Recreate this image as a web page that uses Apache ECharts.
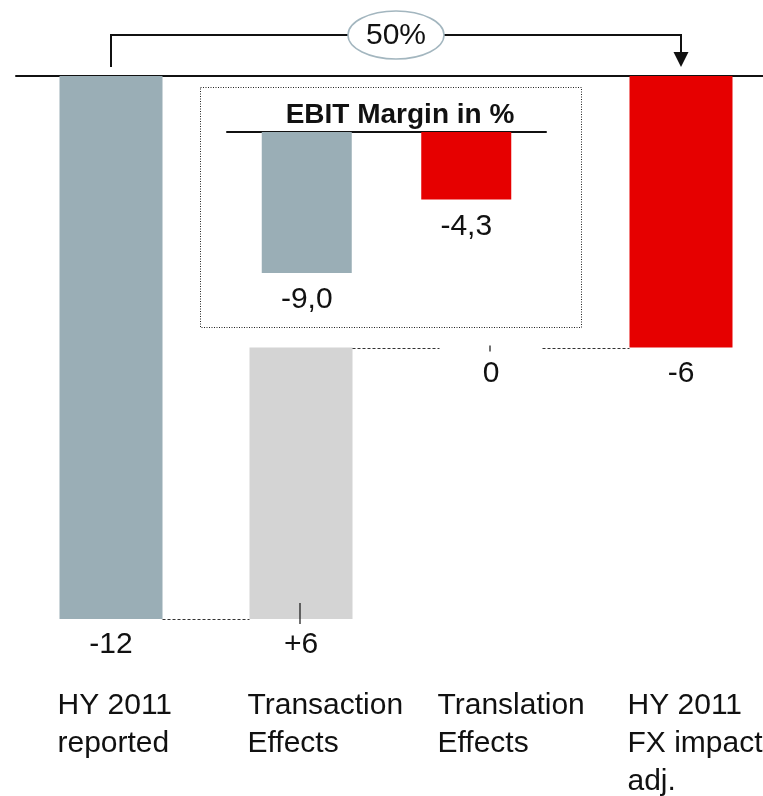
<!DOCTYPE html>
<html>
<head>
<meta charset="utf-8">
<script src="https://cdn.jsdelivr.net/npm/echarts@6/dist/echarts.min.js"></script>
<style>
  html, body { margin: 0; padding: 0; background: #fff; }
  #chart { width: 763px; height: 796px; }
</style>
</head>
<body>
<div id="chart"></div>
<script>
// EBIT bridge: reported -> FX effects -> FX-adjusted
const categories = ['HY 2011\nreported', 'Transaction\nEffects', 'Translation\nEffects', 'HY 2011\nFX impact\nadj.'];
const changes = [-12, 6, 0, -6];
const isTotal = [true, false, false, true];
const valueLabels = ['-12', '+6', '0', '-6'];
const barColors = ['#9aaeb6', '#d4d4d4', '#d4d4d4', '#e60000'];
const bracketFrom = 0;
const bracketTo = 3;
const bracketLabel = '50%';

// inset: EBIT margin
const marginTitle = 'EBIT Margin in %';
const marginCategories = ['HY 2011 reported', 'HY 2011 FX impact adj.'];
const marginValues = [-9.0, -4.3];
const marginColors = ['#9aaeb6', '#e60000'];

const FONT = '"Liberation Sans", Arial, sans-serif';
const TEXT = '#111';

// waterfall geometry from the running total
const base = [], span = [], levelAfter = [], lowEnd = [];
let running = 0;
changes.forEach((c, i) => {
  if (isTotal[i]) {
    running = c;
    base.push(0);
    span.push(c);
  } else {
    const start = running, end = running + c;
    const top = Math.max(start, end), bottom = Math.min(start, end);
    base.push(top);
    span.push(bottom - top);
    running = end;
  }
  levelAfter.push(running);
  lowEnd.push(base[i] + span[i]);
});

const connectorData = [];
for (let i = 0; i < categories.length - 1; i++) connectorData.push([i, levelAfter[i], i + 1]);
const leaderData = [];
changes.forEach((c, i) => { if (!isTotal[i]) leaderData.push([i, lowEnd[i]]); });

const BAR_W = 103;
const leaderExtent = [[16, 5], [2, 4]]; // px above / below the level

const chart = echarts.init(document.getElementById('chart'), null, { renderer: 'canvas' });

const option = {
  animation: false,
  backgroundColor: '#fff',
  textStyle: { fontFamily: FONT },
  title: {
    text: marginTitle,
    left: 395,
    top: 96,
    textAlign: 'center',
    textStyle: { fontFamily: FONT, fontSize: 28, fontWeight: 'bold', color: TEXT }
  },
  grid: [
    { left: 16, top: 76, width: 760, height: 543, outerBoundsMode: 'none', containLabel: false },
    { left: 227, top: 132, width: 319, height: 156.7, outerBoundsMode: 'none', containLabel: false }
  ],
  xAxis: [
    {
      type: 'category', gridIndex: 0, data: categories,
      axisLine: { show: true, onZero: true, lineStyle: { color: '#111', width: 2 } },
      axisTick: { show: false }, axisLabel: { show: false }, splitLine: { show: false }
    },
    {
      type: 'category', gridIndex: 1, data: marginCategories,
      axisLine: { show: true, lineStyle: { color: '#111', width: 2 } },
      axisTick: { show: false }, axisLabel: { show: false }, splitLine: { show: false }
    }
  ],
  yAxis: [
    { type: 'value', gridIndex: 0, min: -12, max: 0, show: false },
    { type: 'value', gridIndex: 1, min: -10, max: 0, show: false }
  ],
  graphic: [
    {
      id: 'insetFrame', type: 'rect', z: 0,
      shape: { x: 200.5, y: 87.5, width: 381, height: 240 },
      style: { fill: 'none', stroke: '#222', lineWidth: 1, lineDash: [1, 1.5] }
    }
  ],
  series: [
    {
      type: 'bar', name: 'base', stack: 'wf', xAxisIndex: 0, yAxisIndex: 0,
      barWidth: BAR_W, data: base,
      itemStyle: { color: 'transparent' }, silent: true
    },
    {
      type: 'bar', name: 'change', stack: 'wf', xAxisIndex: 0, yAxisIndex: 0,
      barWidth: BAR_W,
      data: span.map((v, i) => ({
        value: v,
        itemStyle: { color: barColors[i] }
      })),
      label: {
        show: true, position: 'bottom', distance: 11,
        formatter: p => valueLabels[p.dataIndex],
        fontFamily: FONT, fontSize: 30, color: TEXT
      }
    },
    {
      // dashed connectors between neighbouring bars
      type: 'custom', xAxisIndex: 0, yAxisIndex: 0, data: connectorData, z: 3,
      renderItem: (params, api) => {
        const a = api.coord([api.value(0), api.value(1)]);
        const b = api.coord([api.value(2), api.value(1)]);
        const half = BAR_W / 2;
        return {
          type: 'line',
          shape: { x1: a[0] + half, y1: Math.round(a[1]) + 0.5, x2: b[0] - half, y2: Math.round(a[1]) + 0.5 },
          style: { stroke: '#333', lineWidth: 1, lineDash: [3, 2] }
        };
      }
    },
    {
      // short leader marks for the change labels
      type: 'custom', xAxisIndex: 0, yAxisIndex: 0, data: leaderData, z: 3,
      renderItem: (params, api) => {
        const p = api.coord([api.value(0), api.value(1)]);
        const ext = leaderExtent[params.dataIndex];
        return {
          type: 'line',
          shape: { x1: p[0] - 1, y1: p[1] - ext[0], x2: p[0] - 1, y2: p[1] + ext[1] },
          style: { stroke: '#111', lineWidth: 1.2 }
        };
      }
    },
    {
      // bracket with arrow from the reported to the adjusted bar
      type: 'custom', xAxisIndex: 0, yAxisIndex: 0, data: [[bracketFrom, bracketTo]], z: 4,
      renderItem: (params, api) => {
        const a = api.coord([api.value(0), 0]);
        const b = api.coord([api.value(1), 0]);
        const y0 = a[1];
        const top = y0 - 41;
        const mid = (a[0] + b[0]) / 2;
        return {
          type: 'group',
          children: [
            {
              type: 'polyline',
              shape: { points: [[a[0], y0 - 9], [a[0], top], [b[0], top], [b[0], y0 - 23]] },
              style: { stroke: '#111', lineWidth: 2, fill: null }
            },
            {
              type: 'polygon',
              shape: { points: [[b[0] - 7.5, y0 - 24], [b[0] + 7.5, y0 - 24], [b[0], y0 - 9]] },
              style: { fill: '#111' }
            },
            {
              type: 'ellipse',
              shape: { cx: mid, cy: top, rx: 48, ry: 24 },
              style: { fill: '#fff', stroke: '#a3b6bf', lineWidth: 1.5 }
            },
            {
              type: 'text',
              style: {
                text: bracketLabel, x: mid, y: top + 1,
                align: 'center', verticalAlign: 'middle',
                font: '30px ' + FONT, fill: TEXT
              }
            }
          ]
        };
      }
    },
    {
      type: 'bar', name: 'margin', xAxisIndex: 1, yAxisIndex: 1,
      barWidth: 90,
      data: marginValues.map((v, i) => ({ value: v, itemStyle: { color: marginColors[i] } })),
      label: {
        show: true, position: 'bottom', distance: 12,
        formatter: p => p.value.toFixed(1).replace('.', ','),
        fontFamily: FONT, fontSize: 30, color: TEXT
      }
    }
  ]
};

chart.setOption(option);

// category captions, left-aligned with each bar's left edge
const captions = categories.map((c, i) => {
  const p = chart.convertToPixel({ gridIndex: 0 }, [i, -12]);
  return {
    id: 'cat' + i, type: 'text', z: 5,
    style: {
      text: c, x: p[0] - BAR_W / 2 - 2, y: p[1] + 68,
      font: '30px ' + FONT, lineHeight: 38, fill: TEXT,
      align: 'left', verticalAlign: 'top'
    }
  };
});
chart.setOption({ graphic: captions });
</script>
</body>
</html>
